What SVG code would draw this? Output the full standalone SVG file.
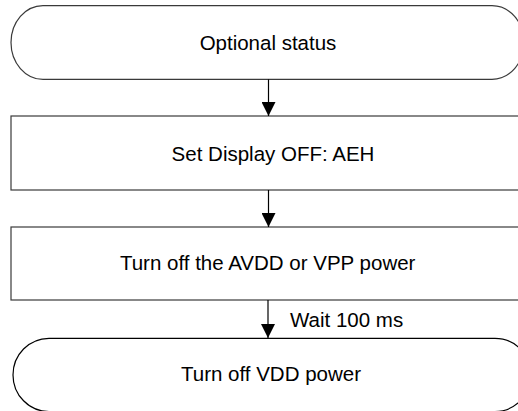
<svg xmlns="http://www.w3.org/2000/svg" width="518" height="411" viewBox="0 0 518 411">
<style>
.shape{fill:#ffffff;stroke:#3a3a3a;stroke-width:1.2}
.lbl{font-family:"Liberation Sans",Arial,sans-serif;font-size:20.5px;fill:#000000;text-anchor:middle}
.conn{stroke:#000000;stroke-width:1.2;fill:none}
</style>
<defs>
<marker id="arrow" markerUnits="userSpaceOnUse" markerWidth="15" markerHeight="14" refX="14" refY="7" orient="auto" viewBox="0 0 15 14">
<path d="M0,0 L14,7 L0,14 Z" fill="#000000"/>
</marker>
</defs>
<g id="node-optional-status">
<path class="shape" d="M43,5.7 L492,5.7 A32,36.8 0 0 1 492,79.3 L43,79.3 A32,36.8 0 0 1 43,5.7 Z"/>
<text class="lbl" x="268" y="50">Optional status</text>
</g>
<g id="node-set-display-off">
<rect class="shape" x="11" y="116" width="520" height="74"/>
<text class="lbl" x="273" y="160.5">Set Display OFF: AEH</text>
</g>
<g id="node-turn-off-avdd">
<rect class="shape" x="11" y="227" width="520" height="73"/>
<text class="lbl" x="267.7" y="269.5">Turn off the AVDD or VPP power</text>
</g>
<g id="node-turn-off-vdd">
<path d="M49,338.3 L495,338.3 A36,36.6 0 0 1 495,411.5 L49,411.5 A36,36.6 0 0 1 49,338.3 Z" style="fill:#ffffff;stroke:#000000;stroke-width:1.2"/>
<text class="lbl" x="271" y="381">Turn off VDD power</text>
</g>
<g id="connectors">
<line class="conn" x1="268.5" y1="79.3" x2="268.5" y2="116" marker-end="url(#arrow)"/>
<line class="conn" x1="268.5" y1="190" x2="268.5" y2="227" marker-end="url(#arrow)"/>
<line class="conn" x1="268" y1="300" x2="268" y2="338" marker-end="url(#arrow)"/>
<text class="lbl" x="290" y="326.5" style="text-anchor:start">Wait 100 ms</text>
</g>
</svg>
